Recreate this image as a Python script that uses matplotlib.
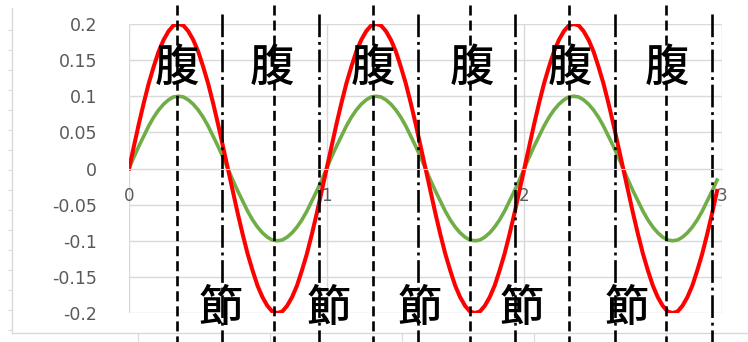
import matplotlib
matplotlib.use("Agg")
import matplotlib.pyplot as plt

plt.rcParams['font.family'] = ['Noto Sans CJK JP', 'DejaVu Sans']
plt.rcParams['axes.unicode_minus'] = False

x = [0.000, 0.025, 0.050, 0.075, 0.100, 0.125, 0.150, 0.175, 0.200, 0.225,
     0.250, 0.275, 0.300, 0.325, 0.350, 0.375, 0.400, 0.425, 0.450, 0.475,
     0.500, 0.525, 0.550, 0.575, 0.600, 0.625, 0.650, 0.675, 0.700, 0.725,
     0.750, 0.775, 0.800, 0.825, 0.850, 0.875, 0.900, 0.925, 0.950, 0.975,
     1.000, 1.025, 1.050, 1.075, 1.100, 1.125, 1.150, 1.175, 1.200, 1.225,
     1.250, 1.275, 1.300, 1.325, 1.350, 1.375, 1.400, 1.425, 1.450, 1.475,
     1.500, 1.525, 1.550, 1.575, 1.600, 1.625, 1.650, 1.675, 1.700, 1.725,
     1.750, 1.775, 1.800, 1.825, 1.850, 1.875, 1.900, 1.925, 1.950, 1.975,
     2.000, 2.025, 2.050, 2.075, 2.100, 2.125, 2.150, 2.175, 2.200, 2.225,
     2.250, 2.275, 2.300, 2.325, 2.350, 2.375, 2.400, 2.425, 2.450, 2.475,
     2.500, 2.525, 2.550, 2.575, 2.600, 2.625, 2.650, 2.675, 2.700, 2.725,
     2.750, 2.775, 2.800, 2.825, 2.850, 2.875, 2.900, 2.925, 2.950, 2.975]
red = [0.000, 0.031, 0.062, 0.091, 0.118, 0.141, 0.162, 0.178, 0.190, 0.198,
       0.200, 0.198, 0.190, 0.178, 0.162, 0.141, 0.118, 0.091, 0.062, 0.031,
       0.000, -0.031, -0.062, -0.091, -0.118, -0.141, -0.162, -0.178, -0.190, -0.198,
       -0.200, -0.198, -0.190, -0.178, -0.162, -0.141, -0.118, -0.091, -0.062, -0.031,
       0.000, 0.031, 0.062, 0.091, 0.118, 0.141, 0.162, 0.178, 0.190, 0.198,
       0.200, 0.198, 0.190, 0.178, 0.162, 0.141, 0.118, 0.091, 0.062, 0.031,
       0.000, -0.031, -0.062, -0.091, -0.118, -0.141, -0.162, -0.178, -0.190, -0.198,
       -0.200, -0.198, -0.190, -0.178, -0.162, -0.141, -0.118, -0.091, -0.062, -0.031,
       0.000, 0.031, 0.062, 0.091, 0.118, 0.141, 0.162, 0.178, 0.190, 0.198,
       0.200, 0.198, 0.190, 0.178, 0.162, 0.141, 0.118, 0.091, 0.062, 0.031,
       0.000, -0.031, -0.062, -0.091, -0.118, -0.141, -0.162, -0.178, -0.190, -0.198,
       -0.200, -0.198, -0.190, -0.178, -0.162, -0.141, -0.118, -0.091, -0.062, -0.031]
green = [0.000, 0.016, 0.031, 0.045, 0.059, 0.071, 0.081, 0.089, 0.095, 0.099,
         0.100, 0.099, 0.095, 0.089, 0.081, 0.071, 0.059, 0.045, 0.031, 0.016,
         0.000, -0.016, -0.031, -0.045, -0.059, -0.071, -0.081, -0.089, -0.095, -0.099,
         -0.100, -0.099, -0.095, -0.089, -0.081, -0.071, -0.059, -0.045, -0.031, -0.016,
         0.000, 0.016, 0.031, 0.045, 0.059, 0.071, 0.081, 0.089, 0.095, 0.099,
         0.100, 0.099, 0.095, 0.089, 0.081, 0.071, 0.059, 0.045, 0.031, 0.016,
         0.000, -0.016, -0.031, -0.045, -0.059, -0.071, -0.081, -0.089, -0.095, -0.099,
         -0.100, -0.099, -0.095, -0.089, -0.081, -0.071, -0.059, -0.045, -0.031, -0.016,
         0.000, 0.016, 0.031, 0.045, 0.059, 0.071, 0.081, 0.089, 0.095, 0.099,
         0.100, 0.099, 0.095, 0.089, 0.081, 0.071, 0.059, 0.045, 0.031, 0.016,
         0.000, -0.016, -0.031, -0.045, -0.059, -0.071, -0.081, -0.089, -0.095, -0.099,
         -0.100, -0.099, -0.095, -0.089, -0.081, -0.071, -0.059, -0.045, -0.031, -0.016]

yticks = [0.2, 0.15, 0.1, 0.05, 0, -0.05, -0.1, -0.15, -0.2]
ytick_labels = ['0.2', '0.15', '0.1', '0.05', '0', '-0.05', '-0.1', '-0.15', '-0.2']
xticks = [0, 1, 2, 3]
xtick_labels = ['0', '1', '2', '3']

# hand drawn markers: antinodes (dashed) and nodes (dash-dot)
antinode_x = [0.243, 0.733, 1.234, 1.725, 2.226, 2.716]
node_x = [0.473, 0.961, 1.462, 1.952, 2.458, 2.949]
fuku_x = [0.243, 0.723, 1.234, 1.735, 2.230, 2.720]
fushi_x = [0.465, 1.012, 1.472, 1.988, 2.519]

fig = plt.figure(figsize=(7.48, 3.42), dpi=100)

# faint frame of the chart area behind
bg = fig.add_axes([12 / 748, 1 - 333 / 342, 736 / 748, 325 / 342])
bg.set_xlim(12, 748)
bg.set_ylim(333, 8)
bg.patch.set_alpha(0)
for s in ['top', 'right']:
    bg.spines[s].set_visible(False)
for s in ['left', 'bottom']:
    bg.spines[s].set_color('#d9d9d9')
    bg.spines[s].set_linewidth(1)
bg.set_yticks([30, 50, 70, 90, 110, 130, 150, 170, 190, 210, 230, 250, 270, 290, 310, 330])
bg.set_xticks([138, 270, 402, 534, 666])
bg.tick_params(axis='y', length=3, color='#d9d9d9', labelleft=False)
bg.tick_params(axis='x', length=9, color='#d9d9d9', labelbottom=False)

ax = fig.add_axes([129 / 748, 1 - 313 / 342, 593 / 748, 289 / 342])
ax.patch.set_alpha(0)
ax.set_xlim(0, 3)
ax.set_ylim(-0.2, 0.2)
ax.grid(True, color='#d9d9d9', linewidth=1)
ax.set_axisbelow(True)
for s in ['top', 'right', 'left']:
    ax.spines[s].set_visible(False)
ax.spines['bottom'].set_position(('data', 0))
ax.spines['bottom'].set_color('#d9d9d9')
ax.set_yticks(yticks)
ax.set_yticklabels(ytick_labels, family='DejaVu Sans', fontsize=12.5, color='#595959')
ax.set_xticks(xticks)
ax.set_xticklabels(xtick_labels, family='DejaVu Sans', fontsize=12, color='#595959')
ax.tick_params(axis='y', length=0, pad=23)
ax.tick_params(axis='x', length=0, pad=13)

ax.plot(x, green, color='#70ad47', linewidth=2.6, solid_joinstyle='round')
ax.plot(x, red, color='#ff0000', linewidth=2.9, solid_joinstyle='round')

for xv in antinode_x:
    ax.plot([xv, xv], [0.226, -0.245], color='black', linewidth=1.9,
            dashes=(3.8, 1.9), clip_on=False)
for xv in node_x:
    ax.plot([xv, xv], [0.214, -0.245], color='black', linewidth=1.9,
            dashes=(8.6, 1.8, 1.1, 1.8), clip_on=False)

for xv in fuku_x:
    ax.text(xv, 0.138, '腹', fontsize=32, fontweight='medium',
            ha='center', va='center', color='black')
for xv in fushi_x:
    ax.text(xv, -0.195, '節', fontsize=32, fontweight='medium',
            ha='center', va='center', color='black', clip_on=False)

fig.savefig('out.png', dpi=100)
